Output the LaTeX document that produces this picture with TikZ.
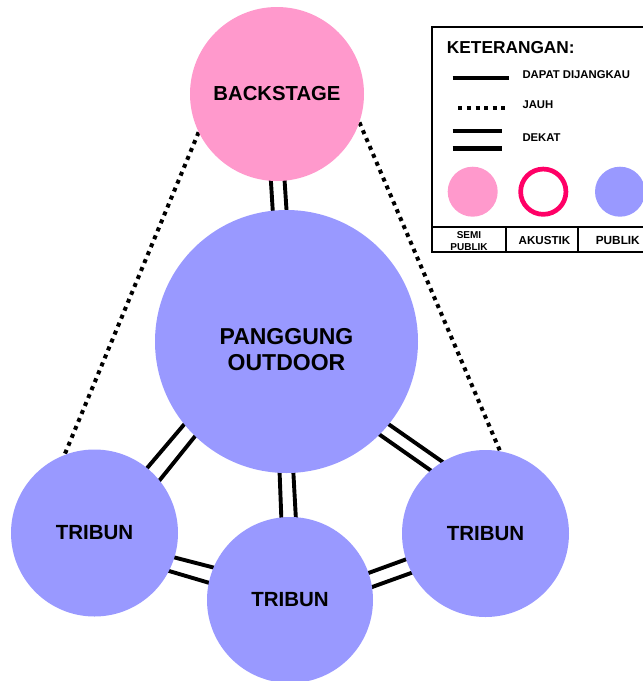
\documentclass[tikz,border=0pt]{standalone}
\usepackage{fontspec}
\setmainfont{Liberation Sans}
\usetikzlibrary{calc}
\definecolor{pinkc}{RGB}{255,153,204}
\definecolor{bluec}{RGB}{153,153,255}
\definecolor{ringc}{RGB}{255,0,102}
\pgfdeclarelayer{bg}
\pgfsetlayers{bg,main}
\begin{document}
\begin{tikzpicture}[x=1pt,y=-1pt,
  bub/.style={circle,inner sep=0pt,draw=none,align=center,font=\bfseries\fontsize{20.5}{24}\selectfont},
  dbl/.style={line width=3.9pt,shorten <=-3pt,shorten >=-3pt},
  dots/.style={line width=4pt,dash pattern=on 4pt off 4.6pt},
  legtxt/.style={font=\bfseries\fontsize{11.3}{13}\selectfont,anchor=base west,inner sep=0pt},
  legbox/.style={line width=1.8pt}]
\useasboundingbox (0,0) rectangle (643,681);
\clip (0,0) rectangle (643,681);

% bubbles
\node[bub,fill=pinkc,minimum size=174pt,font=\bfseries\fontsize{20.3}{23}\selectfont] (bs) at (277,94) {BACKSTAGE};
\node[circle,inner sep=0pt,draw=none,fill=bluec,minimum size=263pt,font=\bfseries\fontsize{23}{26.6}\selectfont] (po) at (286.5,341.5) {\begin{tabular}{@{}c@{}}\rule{0pt}{40pt}PANGGUNG\\OUTDOOR\end{tabular}};
\node[bub,fill=bluec,minimum size=167pt] (tl) at (94.5,533) {TRIBUN};
\node[bub,fill=bluec,minimum size=166pt] (tb) at (290,600) {TRIBUN};
\node[bub,fill=bluec,minimum size=167pt] (tr) at (485.5,533.5) {TRIBUN};

\begin{pgfonlayer}{bg}
% far
\draw[dots] (bs.206) -- (tl.111);
\draw[dots] (bs.341) -- (tr.80);
% near
\draw[dbl] (bs.266) -- (po.96.8);
\draw[dbl] (bs.275.6) -- (po.90.4);
\draw[dbl] (po.267.2) -- (tb.96.9);
\draw[dbl] (po.273.6) -- (tb.86.7);
\draw[dbl] (po.219) -- (tl.51);
\draw[dbl] (po.226) -- (tl.39);
\draw[dbl] (po.321.7) -- (tr.121.4);
\draw[dbl] (po.315) -- (tr.131.9);
\draw[dbl] (tl.343.6) -- (tb.157.5);
\draw[dbl] (tl.333.5) -- (tb.168.4);
\draw[dbl] (tb.19.8) -- (tr.198);
\draw[dbl] (tb.9.6) -- (tr.208.3);
\end{pgfonlayer}

% legend
\draw[legbox] (431.7,26.7) rectangle (660,251.7);
\draw[legbox] (431.7,227.3) -- (660,227.3);
\draw[legbox] (505.7,227.3) -- (505.7,251.7);
\draw[legbox] (578.3,227.3) -- (578.3,251.7);
\node[font=\bfseries\fontsize{17.3}{19}\selectfont,anchor=base west,inner sep=0pt] (kt) at (446.7,53.3) {KETERANGAN:};
\draw[line width=4.6pt] (452.7,77.8) -- (509.3,77.8);
\node[legtxt] (l1) at (522.3,78.3) {DAPAT DIJANGKAU};
\draw[dots] (458.3,108.2) -- (505,108.2);
\node[legtxt] (l2) at (522.3,108.3) {JAUH};
\draw[line width=4.5pt] (452.7,131) -- (501.7,131);
\draw[line width=4.5pt] (452.7,148.3) -- (501.7,148.3);
\node[legtxt] (l3) at (522.3,141.7) {DEKAT};
\node[circle,inner sep=0pt,fill=pinkc,minimum size=50pt] (cp) at (472.7,191.7) {};
\node[circle,inner sep=0pt,draw=ringc,line width=4.7pt,minimum size=45.3pt] (cr) at (543.3,191.7) {};
\node[circle,inner sep=0pt,fill=bluec,minimum size=50pt] (cb) at (620,191.7) {};
\node[font=\bfseries\fontsize{10}{12.3}\selectfont,align=center,inner sep=0pt] (s1) at (469,241) {SEMI\\PUBLIK};
\node[font=\bfseries\fontsize{11.6}{13}\selectfont,anchor=base,inner sep=0pt] (s2) at (544.5,244) {AKUSTIK};
\node[font=\bfseries\fontsize{11.8}{13}\selectfont,anchor=base,inner sep=0pt] (s3) at (617.8,244) {PUBLIK};
\end{tikzpicture}
\end{document}
